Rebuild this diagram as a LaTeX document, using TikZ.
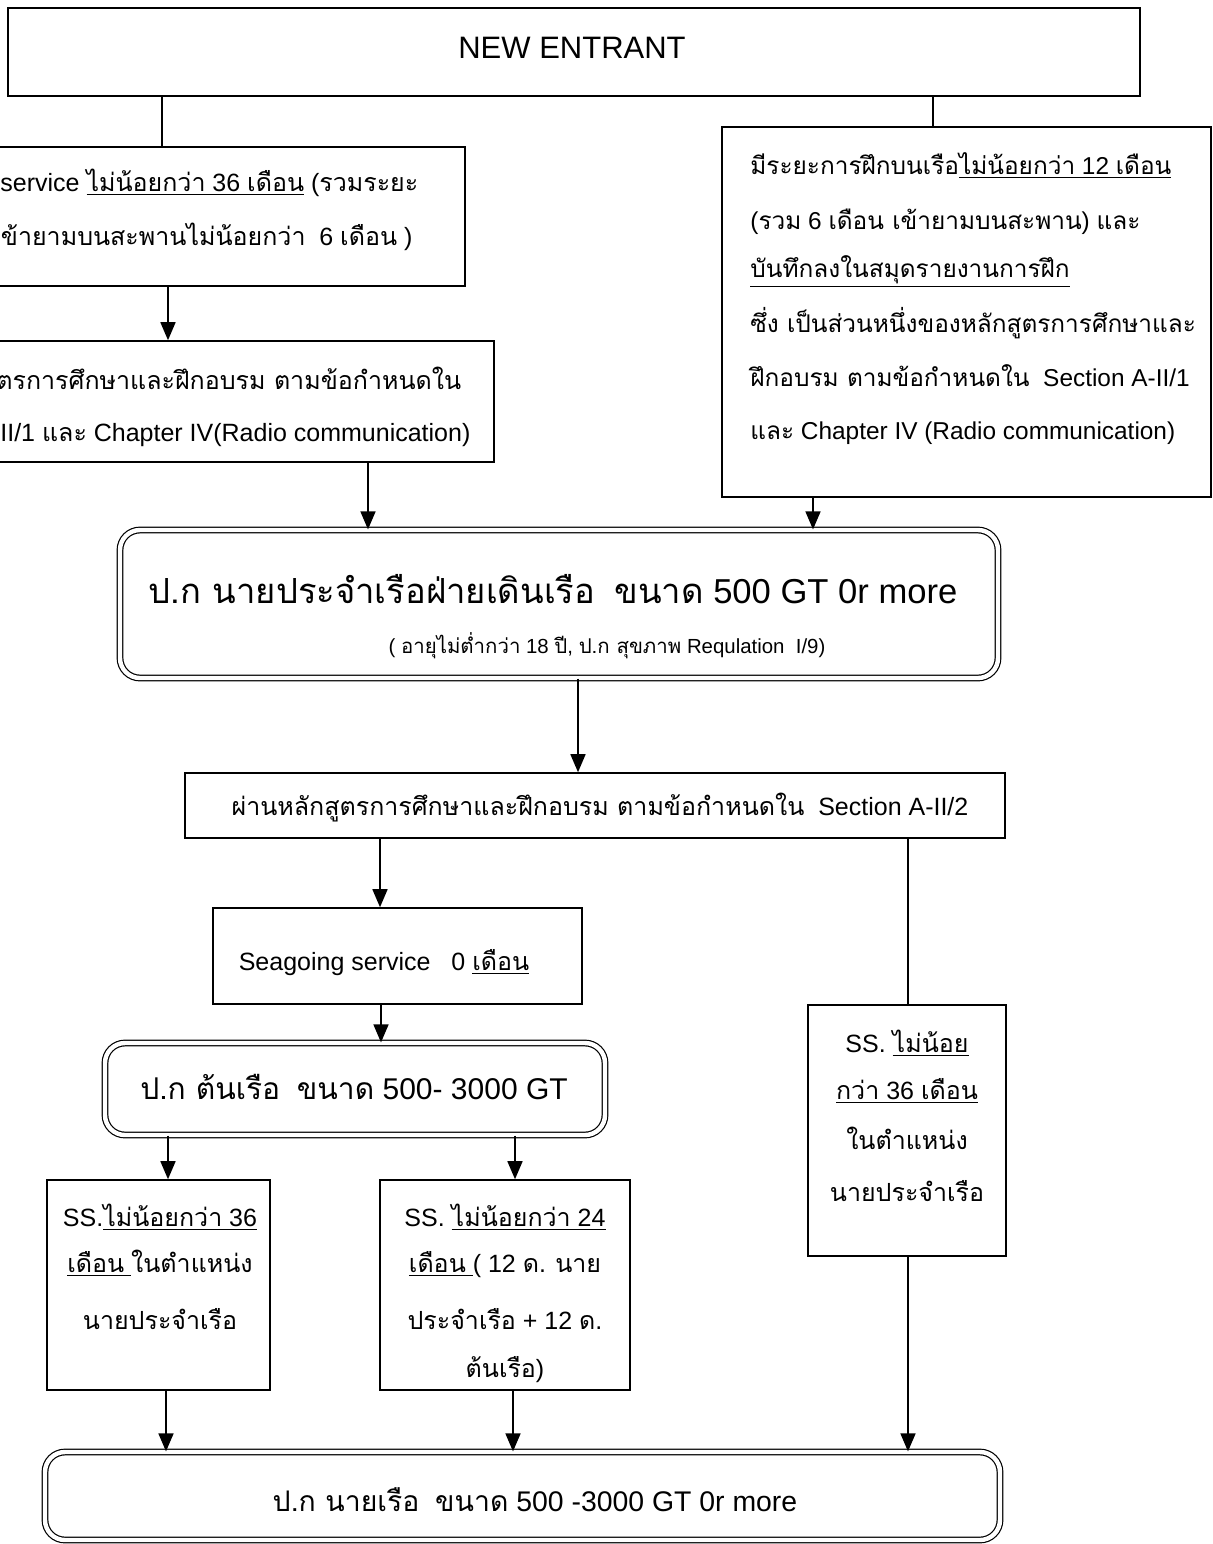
\documentclass[tikz,border=0pt]{standalone}
\usepackage{fontspec}
\setmainfont{Liberation Sans}
\newfontfamily\tf[Script=Thai]{Loma}
\usetikzlibrary{arrows.meta,fit}
\newcommand\T[1]{{\tf #1}}
\newcommand\U[1]{\underline{#1}}
\begin{document}
\begin{tikzpicture}[x=0.5pt,y=-0.5pt,
  box/.style={draw, line width=0.8pt, inner sep=0pt},
  dbox/.style={draw, double, double distance=2.2pt, line width=0.6pt, rounded corners=10pt, inner sep=0pt},
  txt/.style={inner sep=0pt, font=\fontsize{12.5}{15}\selectfont},
  rtx/.style={inner sep=0pt, font=\fontsize{12.2}{15}\selectfont},
  big/.style={inner sep=0pt, font=\fontsize{17.3}{21}\selectfont},
  sml/.style={inner sep=0pt, font=\fontsize{10.2}{12}\selectfont},
  mid/.style={inner sep=0pt, font=\fontsize{15}{18}\selectfont},
  bot/.style={inner sep=0pt, font=\fontsize{14.2}{17}\selectfont},
  arr/.style={line width=0.8pt, -{Triangle[width=7.5pt,length=9pt]}},
  ln/.style={line width=0.8pt}]
\useasboundingbox (0,0) rectangle (1213,1544);
\fill[white] (0,0) rectangle (1213,1544);

% boxes
\node[box, fit={(8,8)(1140,96)}] (ne) {};
\node[box, fit={(-20,147)(465,286)}] (b1) {};
\node[box, fit={(-20,341)(494,462)}] (b2) {};
\node[box, fit={(722,127)(1211,497)}] (rb) {};
\node[dbox, fit={(120,530)(998,678)}] (mb) {};
\node[box, fit={(185,773)(1005,838)}] (sb) {};
\node[box, fit={(213,908)(582,1004)}] (sg) {};
\node[dbox, fit={(105,1043)(605,1135)}] (mt) {};
\node[box, fit={(47,1180)(270,1390)}] (sl) {};
\node[box, fit={(380,1180)(630,1390)}] (sm) {};
\node[box, fit={(808,1005)(1006,1256)}] (sr) {};
\node[dbox, fit={(45,1452)(1000,1540)}] (bb) {};

% texts
\node[inner sep=0pt, font=\fontsize{15.5}{18}\selectfont, anchor=base] (ne-t) at (572,58) {NEW ENTRANT};

\node[txt, anchor=base west] (b1-1) at (0,191) {service \U{\T{ไม่น้อยกว่า} 36 \T{เดือน}} (\T{รวมระยะ}};
\node[txt, anchor=base west] (b1-2) at (-8,245) {\T{เข้ายามบนสะพานไม่น้อยกว่า}\ \ 6 \T{เดือน} )};

\node[txt, anchor=base west] (b2-1) at (-4,389) {\T{ตรการศึกษาและฝึกอบรม ตามข้อกำหนดใน}};
\node[txt, anchor=base west] (b2-2) at (0,441) {II/1 \T{และ} Chapter IV(Radio communication)};

\node[rtx, anchor=base west] (rb-1) at (750,174) {\T{มีระยะการฝึกบนเรือ}\U{\T{ไม่น้อยกว่า} 12 \T{เดือน}}};
\node[rtx, anchor=base west] (rb-2) at (750,229) {(\T{รวม} 6 \T{เดือน เข้ายามบนสะพาน}) \T{และ}};
\node[rtx, anchor=base west] (rb-3) at (750,277) {\U{\T{บันทึกลงในสมุดรายงานการฝึก}}};
\node[rtx, anchor=base west] (rb-4) at (750,332) {\T{ซึ่ง เป็นส่วนหนึ่งของหลักสูตรการศึกษาและ}};
\node[rtx, anchor=base west] (rb-5) at (750,386) {\T{ฝึกอบรม ตามข้อกำหนดใน}\ \ Section A-II/1};
\node[rtx, anchor=base west] (rb-6) at (750,439) {\T{และ} Chapter IV (Radio communication)};

\node[big, anchor=base] (mb-1) at (553,603) {\T{ป.ก นายประจำเรือฝ่ายเดินเรือ}\ \ \T{ขนาด} 500 GT 0r more};
\node[sml, anchor=base] (mb-2) at (607,653) {( \T{อายุไม่ต่ำกว่า} 18 \T{ปี}, \T{ป.ก สุขภาพ} Requlation\ \ I/9)};

\node[txt, anchor=base] (sb-t) at (600,815) {\T{ผ่านหลักสูตรการศึกษาและฝึกอบรม ตามข้อกำหนดใน}\ \ Section A-II/2};
\node[txt, anchor=base] (sg-t) at (384,970) {Seagoing service\ \ \ 0 \U{\T{เดือน}}};
\node[mid, anchor=base] (mt-t) at (354,1099) {\T{ป.ก ต้นเรือ}\ \ \T{ขนาด} 500- 3000 GT};

\node[txt, anchor=base] (sl-1) at (160,1226) {SS.\U{\T{ไม่น้อยกว่า} 36}};
\node[txt, anchor=base] (sl-2) at (160,1272) {\U{\T{เดือน} }\T{ในตำแหน่ง}};
\node[txt, anchor=base] (sl-3) at (160,1329) {\T{นายประจำเรือ}};

\node[txt, anchor=base] (sm-1) at (505,1226) {SS. \U{\T{ไม่น้อยกว่า} 24}};
\node[txt, anchor=base] (sm-2) at (505,1272) {\U{\T{เดือน} }( 12 \T{ด}. \T{นาย}};
\node[txt, anchor=base] (sm-3) at (505,1329) {\T{ประจำเรือ} + 12 \T{ด}.};
\node[txt, anchor=base] (sm-4) at (505,1377) {\T{ต้นเรือ})};

\node[txt, anchor=base] (sr-1) at (907,1052) {SS. \U{\T{ไม่น้อย}}};
\node[txt, anchor=base] (sr-2) at (907,1099) {\U{\T{กว่า} 36 \T{เดือน}}};
\node[txt, anchor=base] (sr-3) at (907,1149) {\T{ในตำแหน่ง}};
\node[txt, anchor=base] (sr-4) at (907,1201) {\T{นายประจำเรือ}};

\node[bot, anchor=base] (bb-t) at (535,1511) {\T{ป.ก นายเรือ}\ \ \T{ขนาด} 500 -3000 GT 0r more};

% connector x positions
\coordinate (x162) at (162,0);
\coordinate (x933) at (933,0);
\coordinate (x168) at (168,0);
\coordinate (x368) at (368,0);
\coordinate (x813) at (813,0);
\coordinate (x578) at (578,0);
\coordinate (x380) at (380,0);
\coordinate (x908) at (908,0);
\coordinate (x381) at (381,0);
\coordinate (x515) at (515,0);
\coordinate (x166) at (166,0);
\coordinate (x513) at (513,0);

\draw[ln] (x162 |- ne.south) -- (x162 |- b1.north);
\draw[ln] (x933 |- ne.south) -- (x933 |- rb.north);
\draw[arr] (x168 |- b1.south) -- (x168 |- b2.north);
\draw[arr] (x368 |- b2.south) -- (x368 |- mb.north);
\draw[arr] (x813 |- rb.south) -- (x813 |- mb.north);
\draw[arr] (x578 |- mb.south) -- (x578 |- sb.north);
\draw[arr] (x380 |- sb.south) -- (x380 |- sg.north);
\draw[ln] (x908 |- sb.south) -- (x908 |- sr.north);
\draw[arr] (x381 |- sg.south) -- (x381 |- mt.north);
\draw[arr] (x168 |- mt.south) -- (x168 |- sl.north);
\draw[arr] (x515 |- mt.south) -- (x515 |- sm.north);
\draw[arr] (x166 |- sl.south) -- (x166 |- bb.north);
\draw[arr] (x513 |- sm.south) -- (x513 |- bb.north);
\draw[arr] (x908 |- sr.south) -- (x908 |- bb.north);
\end{tikzpicture}
\end{document}
